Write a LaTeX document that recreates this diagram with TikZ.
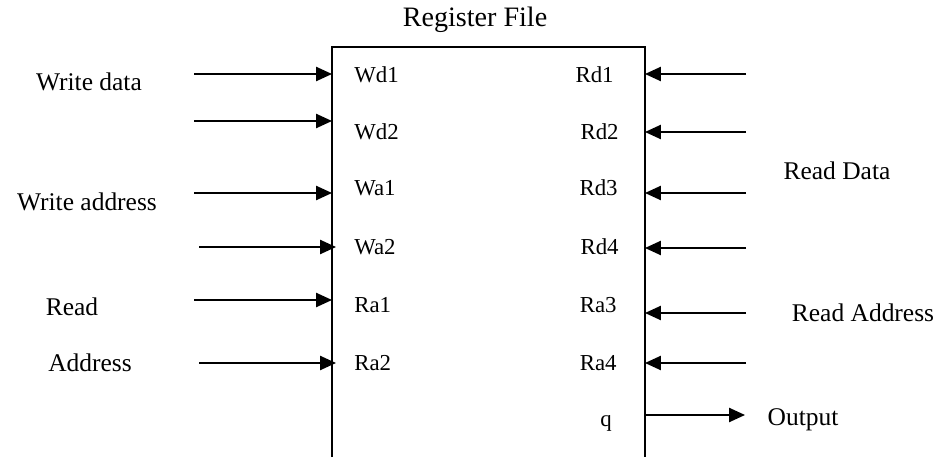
\documentclass[tikz,border=0pt]{standalone}
\usepackage{fontspec}
\setmainfont{Liberation Serif}
\usetikzlibrary{arrows.meta}
\tikzset{
  sig/.style={line width=1pt, -{Triangle[length=9pt,width=8pt]}},
  pinlbl/.style={font=\fontsize{13}{15}\selectfont, inner sep=0pt},
  buslbl/.style={font=\fontsize{14.5}{17}\selectfont, inner sep=0pt},
}
\begin{document}
\begin{tikzpicture}[x=0.02cm,y=-0.02cm]
\useasboundingbox (0,0) rectangle (941,457);

% register file body, open at the bottom
\draw[line width=1pt] (332,457) -- (332,47) -- (645,47) -- (645,457);
\node[font=\fontsize{16}{19}\selectfont, inner sep=0pt] (title) at (475,20) {Register File};

% input pins on the left side
\foreach \n/\y/\ly/\xs/\xe in {Wd1/74/75/194/332, Wd2/121/132/194/332, Wa1/193/188/194/332,
                              Wa2/247/247/199/336, Ra1/300/305/194/332, Ra2/363/363/199/336} {
  \coordinate (src\n) at (\xs,\y);
  \coordinate (pin\n) at (\xe,\y);
  \draw[sig] (src\n) -- (pin\n);
  \node[pinlbl, anchor=west] (lbl\n) at (354,\ly) {\n};
}

% input pins on the right side
\foreach \n/\y/\ly/\lx in {Rd1/74/75/614, Rd2/132/132/619, Rd3/193/188/618,
                           Rd4/248/247/619, Ra3/313/305/617, Ra4/363/363/617} {
  \coordinate (src\n) at (746,\y);
  \coordinate (pin\n) at (645,\y);
  \draw[sig] (src\n) -- (pin\n);
  \node[pinlbl, anchor=east] (lbl\n) at (\lx,\ly) {\n};
}

% output
\coordinate (pinq) at (645,415);
\coordinate (dstq) at (745,415);
\draw[sig] (pinq) -- (dstq);
\node[pinlbl] (lblq) at (606,423) {q};

% bus names
\node[buslbl] (wdata) at (89,82) {Write data};
\node[buslbl] (waddr) at (87,202) {Write address};
\node[buslbl] (rd) at (72,307) {Read};
\node[buslbl] (addr) at (90,363) {Address};
\node[buslbl] (rdata) at (837,171) {Read Data};
\node[buslbl] (raddr) at (863,313) {Read Address};
\node[buslbl] (out) at (803,420) {Output};

\end{tikzpicture}
\end{document}
